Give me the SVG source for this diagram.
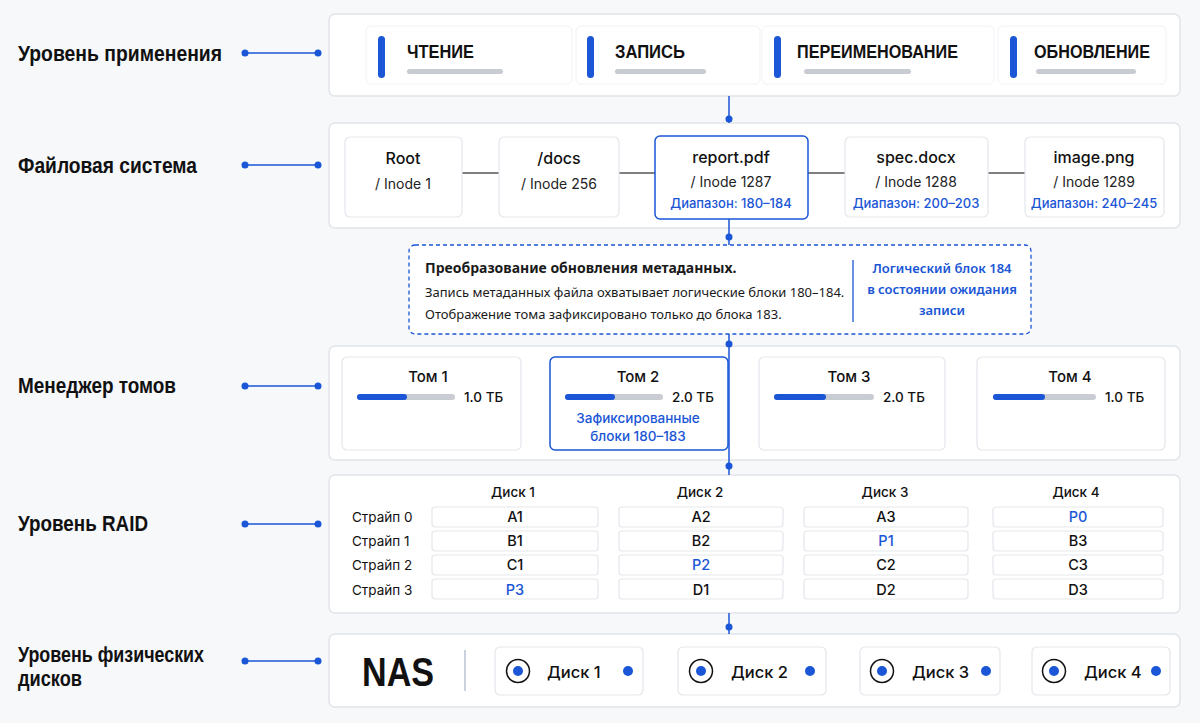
<svg xmlns="http://www.w3.org/2000/svg" width="1200" height="723" viewBox="0 0 1200 723">
<defs>
<style>
.bg{fill:#f7f8fa}
.panel{fill:#fff;stroke:#e1e4e9;stroke-width:1.5}
.card{fill:#fff;stroke:#e4e7eb;stroke-width:1.2}
.faint{fill:#fff;stroke:#f1f2f5;stroke-width:1}
.sel{fill:#fff;stroke:#1a56d6;stroke-width:1.5}
.lvl{font-family:"Liberation Sans",Arial,sans-serif;font-weight:700;font-size:22px;fill:#111}
.op{font-family:"Liberation Sans",Arial,sans-serif;font-weight:700;font-size:18px;fill:#111}
.t1{font-family:Inter,"Noto Sans",sans-serif;font-weight:500;font-size:16px;fill:#111;text-anchor:middle}
.t2{font-family:Inter,"Noto Sans",sans-serif;font-weight:400;font-size:14px;fill:#222;text-anchor:middle}
.t3{font-family:Inter,"Noto Sans",sans-serif;font-weight:500;font-size:13px;fill:#1a56d6;text-anchor:middle}
.s{font-family:"Noto Sans","Liberation Sans",sans-serif;font-size:13px;fill:#1a1a1a}
.sb{font-family:"Noto Sans","Liberation Sans",sans-serif;font-weight:700;font-size:14px;fill:#1a1a1a}
.bl{font-family:"Noto Sans","Liberation Sans",sans-serif;font-weight:600;font-size:13px;fill:#1a56d6;text-anchor:middle}
.vt{font-family:Inter,"Noto Sans",sans-serif;font-weight:500;font-size:15px;fill:#111;text-anchor:middle}
.vs{font-family:Inter,"Noto Sans",sans-serif;font-weight:500;font-size:13.5px;fill:#111}
.h{font-family:Inter,"Noto Sans",sans-serif;font-weight:500;font-size:13.5px;fill:#111;text-anchor:middle}
.rl{font-family:Inter,"Noto Sans",sans-serif;font-size:13.5px;fill:#111}
.c{font-family:Inter,"Noto Sans",sans-serif;font-weight:500;font-size:14.5px;fill:#111;text-anchor:middle}
.cb{fill:#1a56d6}
.dk{font-family:Inter,"Noto Sans",sans-serif;font-weight:500;font-size:16.5px;fill:#111}
.bar{fill:#1a56d6}
.gbar{fill:#c9ccd2}
.ul{fill:#c8cbd1}
.conn{stroke:#1a56d6;stroke-width:1.5;fill:none}
.dot{fill:#1a56d6}
.link{stroke:#555;stroke-width:1.5}
</style>
</defs>
<rect class="bg" x="0" y="0" width="1200" height="723"/>

<!-- level labels -->
<g id="labels">
<text class="lvl" x="18" y="61" textLength="204" lengthAdjust="spacingAndGlyphs">Уровень применения</text>
<text class="lvl" x="18" y="173" textLength="179" lengthAdjust="spacingAndGlyphs">Файловая система</text>
<text class="lvl" x="18" y="393" textLength="158" lengthAdjust="spacingAndGlyphs">Менеджер томов</text>
<text class="lvl" x="18" y="531" textLength="130" lengthAdjust="spacingAndGlyphs">Уровень RAID</text>
<text class="lvl" x="18" y="662" textLength="186" lengthAdjust="spacingAndGlyphs">Уровень физических</text>
<text class="lvl" x="18" y="686" textLength="64" lengthAdjust="spacingAndGlyphs">дисков</text>
</g>

<!-- application level -->
<g id="app">
<rect class="panel" x="329" y="14" width="851" height="82" rx="6"/>
<rect class="faint" x="366" y="26" width="206" height="58" rx="5"/>
<rect class="faint" x="576" y="26" width="184" height="58" rx="5"/>
<rect class="faint" x="762" y="26" width="232" height="58" rx="5"/>
<rect class="faint" x="998" y="26" width="168" height="58" rx="5"/>
<g id="op-read"><rect class="bar" x="378" y="36" width="7" height="42" rx="3.5"/><text class="op" x="407" y="58" textLength="67" lengthAdjust="spacingAndGlyphs">ЧТЕНИЕ</text><rect class="ul" x="407" y="69" width="96" height="5" rx="2.5"/></g>
<g id="op-write"><rect class="bar" x="587" y="36" width="7" height="42" rx="3.5"/><text class="op" x="615" y="58" textLength="70" lengthAdjust="spacingAndGlyphs">ЗАПИСЬ</text><rect class="ul" x="615" y="69" width="91" height="5" rx="2.5"/></g>
<g id="op-rename"><rect class="bar" x="774" y="36" width="7" height="42" rx="3.5"/><text class="op" x="797" y="58" textLength="161" lengthAdjust="spacingAndGlyphs">ПЕРЕИМЕНОВАНИЕ</text><rect class="ul" x="804" y="69" width="107" height="5" rx="2.5"/></g>
<g id="op-update"><rect class="bar" x="1010" y="36" width="7" height="42" rx="3.5"/><text class="op" x="1034" y="58" textLength="116" lengthAdjust="spacingAndGlyphs">ОБНОВЛЕНИЕ</text><rect class="ul" x="1036" y="69" width="100" height="5" rx="2.5"/></g>
</g>

<!-- file system -->
<g id="fs">
<rect class="panel" x="329" y="123" width="851" height="105" rx="6"/>
<line class="link" x1="462" y1="173" x2="499" y2="173"/>
<line class="link" x1="619" y1="173" x2="655" y2="173"/>
<line class="link" x1="808" y1="173" x2="845" y2="173"/>
<line class="link" x1="988" y1="173" x2="1025" y2="173"/>
<g id="fs-root"><rect class="card" x="345" y="137" width="117" height="80" rx="5"/><text class="t1" x="403" y="164">Root</text><text class="t2" x="403" y="189">/ Inode 1</text></g>
<g id="fs-docs"><rect class="card" x="499" y="137" width="120" height="80" rx="5"/><text class="t1" x="559" y="164">/docs</text><text class="t2" x="559" y="189">/ Inode 256</text></g>
<g id="fs-report"><rect class="sel" x="655" y="136" width="153" height="83" rx="5"/><text class="t1" x="731" y="163">report.pdf</text><text class="t2" x="731" y="187">/ Inode 1287</text><text class="t3" x="731" y="208">Диапазон: 180–184</text></g>
<g id="fs-spec"><rect class="card" x="845" y="137" width="143" height="80" rx="5"/><text class="t1" x="916" y="163">spec.docx</text><text class="t2" x="916" y="187">/ Inode 1288</text><text class="t3" x="916" y="208">Диапазон: 200–203</text></g>
<g id="fs-image"><rect class="card" x="1025" y="137" width="139" height="80" rx="5"/><text class="t1" x="1094" y="163">image.png</text><text class="t2" x="1094" y="187">/ Inode 1289</text><text class="t3" x="1094" y="208">Диапазон: 240–245</text></g>
</g>

<!-- metadata note -->
<g id="note">
<rect x="409" y="245" width="622" height="89" rx="6" fill="#fff" stroke="#1a56d6" stroke-width="1.3" stroke-dasharray="4 3"/>
<text class="sb" x="425" y="273">Преобразование обновления метаданных.</text>
<text class="s" x="425" y="297">Запись метаданных файла охватывает логические блоки 180–184.</text>
<text class="s" x="425" y="319">Отображение тома зафиксировано только до блока 183.</text>
<line x1="853" y1="260" x2="853" y2="322" stroke="#1a56d6" stroke-width="1.3"/>
<text class="bl" x="942" y="273">Логический блок 184</text>
<text class="bl" x="942" y="294">в состоянии ожидания</text>
<text class="bl" x="942" y="315">записи</text>
</g>

<!-- volume manager -->
<g id="vm">
<rect class="panel" x="329" y="346" width="851" height="114" rx="6"/>
<g id="vol1"><rect class="card" x="342" y="357" width="179" height="93" rx="5"/><text class="vt" x="428" y="382">Том 1</text><rect class="gbar" x="357" y="394" width="98" height="6" rx="3"/><rect class="bar" x="357" y="394" width="50" height="6" rx="3"/><text class="vs" x="464" y="402">1.0 ТБ</text></g>
<g id="vol2"><rect class="sel" x="550" y="357" width="178" height="93" rx="5"/><text class="vt" x="638" y="382">Том 2</text><rect class="gbar" x="565" y="394" width="98" height="6" rx="3"/><rect class="bar" x="565" y="394" width="50" height="6" rx="3"/><text class="vs" x="672" y="402">2.0 ТБ</text><text class="t3" x="638" y="423" style="font-size:13.5px">Зафиксированные</text><text class="t3" x="638" y="441" style="font-size:13.5px">блоки 180–183</text></g>
<g id="vol3"><rect class="card" x="759" y="357" width="186" height="93" rx="5"/><text class="vt" x="849" y="382">Том 3</text><rect class="gbar" x="774" y="394" width="100" height="6" rx="3"/><rect class="bar" x="774" y="394" width="52" height="6" rx="3"/><text class="vs" x="883" y="402">2.0 ТБ</text></g>
<g id="vol4"><rect class="card" x="977" y="357" width="188" height="93" rx="5"/><text class="vt" x="1070" y="382">Том 4</text><rect class="gbar" x="993" y="394" width="103" height="6" rx="3"/><rect class="bar" x="993" y="394" width="52" height="6" rx="3"/><text class="vs" x="1105" y="402">1.0 ТБ</text></g>
</g>

<!-- RAID -->
<g id="raid">
<rect class="panel" x="329" y="475" width="851" height="138" rx="6"/>
<text class="h" x="513" y="497">Диск 1</text>
<text class="h" x="700" y="497">Диск 2</text>
<text class="h" x="885" y="497">Диск 3</text>
<text class="h" x="1076" y="497">Диск 4</text>
<text class="rl" x="352" y="522">Страйп 0</text>
<text class="rl" x="352" y="546">Страйп 1</text>
<text class="rl" x="352" y="570">Страйп 2</text>
<text class="rl" x="352" y="595">Страйп 3</text>
<g id="raid-d1">
<rect class="card" x="432" y="507" width="166" height="20" rx="3"/><text class="c" x="515" y="522">A1</text>
<rect class="card" x="432" y="531" width="166" height="20" rx="3"/><text class="c" x="515" y="546">B1</text>
<rect class="card" x="432" y="555" width="166" height="20" rx="3"/><text class="c" x="515" y="570">C1</text>
<rect class="card" x="432" y="579" width="166" height="20" rx="3"/><text class="c cb" x="515" y="595">P3</text>
</g>
<g id="raid-d2">
<rect class="card" x="619" y="507" width="164" height="20" rx="3"/><text class="c" x="701" y="522">A2</text>
<rect class="card" x="619" y="531" width="164" height="20" rx="3"/><text class="c" x="701" y="546">B2</text>
<rect class="card" x="619" y="555" width="164" height="20" rx="3"/><text class="c cb" x="701" y="570">P2</text>
<rect class="card" x="619" y="579" width="164" height="20" rx="3"/><text class="c" x="701" y="595">D1</text>
</g>
<g id="raid-d3">
<rect class="card" x="804" y="507" width="164" height="20" rx="3"/><text class="c" x="886" y="522">A3</text>
<rect class="card" x="804" y="531" width="164" height="20" rx="3"/><text class="c cb" x="886" y="546">P1</text>
<rect class="card" x="804" y="555" width="164" height="20" rx="3"/><text class="c" x="886" y="570">C2</text>
<rect class="card" x="804" y="579" width="164" height="20" rx="3"/><text class="c" x="886" y="595">D2</text>
</g>
<g id="raid-d4">
<rect class="card" x="993" y="507" width="170" height="20" rx="3"/><text class="c cb" x="1078" y="522">P0</text>
<rect class="card" x="993" y="531" width="170" height="20" rx="3"/><text class="c" x="1078" y="546">B3</text>
<rect class="card" x="993" y="555" width="170" height="20" rx="3"/><text class="c" x="1078" y="570">C3</text>
<rect class="card" x="993" y="579" width="170" height="20" rx="3"/><text class="c" x="1078" y="595">D3</text>
</g>
</g>

<!-- physical disks -->
<g id="nas">
<rect class="panel" x="329" y="634" width="851" height="73" rx="6"/>
<text x="398" y="686" text-anchor="middle" font-family="Liberation Sans,Arial,sans-serif" font-weight="700" font-size="40" fill="#111" textLength="72" lengthAdjust="spacingAndGlyphs">NAS</text>
<line x1="465" y1="650" x2="465" y2="691" stroke="#b8c3d3" stroke-width="1.5"/>
<g id="disk1"><rect class="card" x="495" y="647" width="148" height="48" rx="5"/><circle cx="518" cy="671" r="11.5" fill="none" stroke="#111" stroke-width="1.5"/><circle cx="518" cy="671" r="5" class="dot"/><text class="dk" x="547" y="678">Диск 1</text><circle cx="628" cy="671" r="5" class="dot"/></g>
<g id="disk2"><rect class="card" x="678" y="647" width="148" height="48" rx="5"/><circle cx="701" cy="671" r="11.5" fill="none" stroke="#111" stroke-width="1.5"/><circle cx="701" cy="671" r="5" class="dot"/><text class="dk" x="731" y="678">Диск 2</text><circle cx="810" cy="671" r="5" class="dot"/></g>
<g id="disk3"><rect class="card" x="860" y="647" width="140" height="48" rx="5"/><circle cx="882" cy="671" r="11.5" fill="none" stroke="#111" stroke-width="1.5"/><circle cx="882" cy="671" r="5" class="dot"/><text class="dk" x="912" y="678">Диск 3</text><circle cx="986" cy="671" r="5" class="dot"/></g>
<g id="disk4"><rect class="card" x="1032" y="647" width="138" height="48" rx="5"/><circle cx="1054" cy="671" r="11.5" fill="none" stroke="#111" stroke-width="1.5"/><circle cx="1054" cy="671" r="5" class="dot"/><text class="dk" x="1084" y="678">Диск 4</text><circle cx="1156" cy="671" r="5" class="dot"/></g>
</g>

<!-- connectors -->
<g id="connectors">
<line class="conn" x1="245" y1="53" x2="318" y2="53"/><circle class="dot" cx="245" cy="53" r="3.5"/><circle class="dot" cx="318" cy="53" r="3.5"/>
<line class="conn" x1="245" y1="165" x2="318" y2="165"/><circle class="dot" cx="245" cy="165" r="3.5"/><circle class="dot" cx="318" cy="165" r="3.5"/>
<line class="conn" x1="245" y1="386" x2="318" y2="386"/><circle class="dot" cx="245" cy="386" r="3.5"/><circle class="dot" cx="318" cy="386" r="3.5"/>
<line class="conn" x1="245" y1="524" x2="318" y2="524"/><circle class="dot" cx="245" cy="524" r="3.5"/><circle class="dot" cx="318" cy="524" r="3.5"/>
<line class="conn" x1="245" y1="661" x2="318" y2="661"/><circle class="dot" cx="245" cy="661" r="3.5"/><circle class="dot" cx="318" cy="661" r="3.5"/>
<line class="conn" x1="729" y1="96" x2="729" y2="123"/><circle class="dot" cx="729" cy="119" r="3.5"/>
<line class="conn" x1="729" y1="219" x2="729" y2="245"/><circle class="dot" cx="729" cy="237" r="3.5"/>
<line class="conn" x1="729" y1="334" x2="729" y2="475"/><circle class="dot" cx="729" cy="344" r="3.5"/><circle class="dot" cx="729" cy="466" r="3.5"/>
<line class="conn" x1="729" y1="613" x2="729" y2="634"/><circle class="dot" cx="729" cy="627" r="3.5"/>
</g>
</svg>
